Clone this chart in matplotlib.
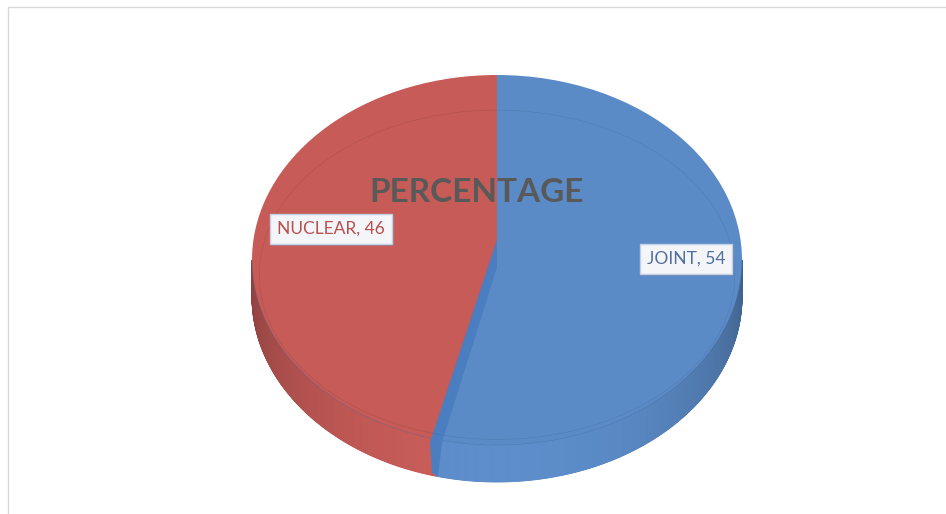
import numpy as np
import matplotlib
matplotlib.use("Agg")
import matplotlib.pyplot as plt
import matplotlib.patheffects as pe
from matplotlib.patches import Polygon, Rectangle, Ellipse
from matplotlib.colors import to_rgb

plt.rcParams['font.family'] = ['Lato', 'DejaVu Sans']

# data
labels = ['JOINT', 'NUCLEAR']
values = [54, 46]
colors = ['#5b8bc7', '#c65b58']
title = 'PERCENTAGE'

# pie geometry in pixels (top face ellipse) and wall depth
W, H = 946, 514
cx, cy, a, b = 497, 260, 245, 185
depth = 0.2


def px(x, y):
    return (x - cx) / a, (cy - y) / b


fig = plt.figure(figsize=(W / 100, H / 100), dpi=100)
ax = fig.add_axes([0, 0, 1, 1])

# top face
wedges, _ = ax.pie(values, colors=colors, startangle=90, counterclock=False,
                   radius=1, center=(0, 0), wedgeprops=dict(linewidth=0, zorder=3))
ax.set_aspect('auto')
ax.set_xlim(-cx / a, (W - cx) / a)
ax.set_ylim((cy - H) / b, cy / b)
ax.axis('off')

# side wall (front half only), shaded by angle
bounds = 90 - 360 * np.concatenate([[0], np.cumsum(values)]) / sum(values)
for i, col in enumerate(colors):
    t1, t0 = bounds[i], bounds[i + 1]
    base = np.array(to_rgb(col))
    for k in (-360, 0, 360):
        lo, hi = max(t0 + k, -180), min(t1 + k, 0)
        if hi <= lo:
            continue
        edges = np.linspace(lo, hi, int(np.ceil((hi - lo) * 4)) + 1)
        for s0, s1 in zip(edges[:-1], edges[1:]):
            th = np.radians(np.linspace(s0, s1, 3))
            f = 0.70 + 0.32 * (-np.sin(np.radians((s0 + s1) / 2)))
            c = np.clip(base * f, 0, 1)
            pts = np.concatenate([np.column_stack([np.cos(th), np.sin(th)]),
                                  np.column_stack([np.cos(th[::-1]), np.sin(th[::-1]) - depth])])
            ax.add_patch(Polygon(pts, closed=True, fc=c, ec=c, lw=0.6, zorder=2))

# front rim line
th = np.radians(np.linspace(-180, 0, 200))
ax.plot(np.cos(th), np.sin(th), color='#3f6598', lw=0.6, alpha=0.35, zorder=4)

# cut face of the blue slice, around the split edge point
te = np.radians(bounds[1])
ex, ey = np.cos(te), np.sin(te)
sliver = [(0, 0.11), (0, -0.04),
          (ex + 6 / a, ey - 3 / b), (ex + 2 / a, ey - depth),
          (ex - 4 / a, ey - 34 / b), (ex - 6 / a, ey - 3 / b)]
ax.add_patch(Polygon(sliver, closed=True, fc='#4b7ec0', ec='none', zorder=4))

# faint bevel line on the top face
ax.add_patch(Ellipse((0, -0.08), 1.94, 1.78, fill=False, ec='#000000', lw=0.6,
                     alpha=0.08, zorder=4))

# title
tx, ty = px(477, 192)
ax.text(tx, ty, title, fontsize=24, fontweight='bold', color='#595959',
        ha='center', va='center', zorder=6)

# data labels
label_pos = [(686, 259), (331, 229)]
label_colors = ['#4f6f9f', '#b8504d']
for lab, val, (lx, ly), lc in zip(labels, values, label_pos, label_colors):
    x, y = px(lx, ly)
    t = ax.text(x, y, f'{lab}, {val}', fontsize=12.5, color=lc, ha='center', va='center',
                zorder=6, bbox=dict(boxstyle='square,pad=0.4', fc='#f4f5f8', ec='#c3d0e4', lw=1))
    t.get_bbox_patch().set_path_effects([
        pe.SimplePatchShadow(offset=(1.5, -1.5), shadow_rgbFace='#6f7f9f', alpha=0.45),
        pe.Normal()])

# chart area border
fig.add_artist(Rectangle((8 / W, -0.1), 1.2, (H - 7) / H + 0.1, transform=fig.transFigure,
                         fill=False, ec='#d9d9d9', lw=1))

fig.savefig('out.png', dpi=100, facecolor='white')
